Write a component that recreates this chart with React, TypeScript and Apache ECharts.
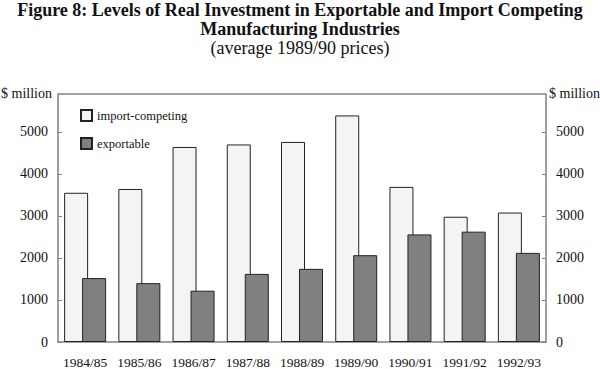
import React, { useEffect, useRef } from "react";
import * as echarts from "echarts";

const categories = ["1984/85", "1985/86", "1986/87", "1987/88", "1988/89", "1989/90", "1990/91", "1991/92", "1992/93"];
const importCompeting = [3550, 3640, 4640, 4700, 4760, 5390, 3690, 2980, 3080];
const exportable = [1520, 1400, 1220, 1620, 1740, 2065, 2560, 2625, 2120];
const yTicks = [0, 1000, 2000, 3000, 4000, 5000];

const FONT = "Liberation Serif, Times New Roman, serif";

export default function App() {
  const ref = useRef<HTMLDivElement>(null);
  useEffect(() => {
    if (!ref.current) return;
    const chart = echarts.init(ref.current, undefined, { renderer: "svg" });
    const yAxisBase = (position: "left" | "right") => ({
      type: "value",
      position,
      min: 0,
      max: 5900,
      interval: 1000,
      axisLine: { show: true, lineStyle: { color: "#808080", width: 1.5 } },
      axisTick: { show: true, inside: true, length: 4, lineStyle: { color: "#808080" } },
      splitLine: { show: false },
      axisLabel: {
        showMaxLabel: false,
        margin: 10,
        color: "#111",
        fontFamily: FONT,
        fontSize: 14,
        formatter: (v: number) => (yTicks.includes(v) ? String(v) : ""),
      },
    });
    chart.setOption({
      animation: false,
      backgroundColor: "#fff",
      title: {
        text: "Figure 8: Levels of Real Investment in Exportable and Import Competing\nManufacturing Industries",
        subtext: "(average 1989/90 prices)",
        left: "center",
        top: 0,
        itemGap: 0,
        padding: 0,
        textStyle: { fontFamily: FONT, fontSize: 18, fontWeight: "bold", color: "#111", lineHeight: 19 },
        subtextStyle: { fontFamily: FONT, fontSize: 18, color: "#111", lineHeight: 19 },
      },
      legend: {
        orient: "vertical",
        left: 80,
        top: 109,
        padding: 0,
        itemWidth: 11,
        itemHeight: 11,
        itemGap: 15,
        icon: "rect",
        textStyle: { fontFamily: FONT, fontSize: 12.5, color: "#111", lineHeight: 12 },
        data: ["import-competing", "exportable"],
      },
      graphic: [
        { type: "text", left: 1, top: 86, style: { text: "$ million", font: `14px ${FONT}`, fill: "#111" } },
        { type: "text", left: 549, top: 86, style: { text: "$ million", font: `14px ${FONT}`, fill: "#111" } },
        {
          type: "line",
          shape: { x1: 58, y1: 94, x2: 546, y2: 94 },
          style: { stroke: "#808080", lineWidth: 1.5 },
        },
      ],
      grid: { left: 58, right: 54, top: 94, bottom: 26.3, containLabel: false },
      xAxis: {
        type: "category",
        data: categories,
        axisLine: { show: true, lineStyle: { color: "#808080", width: 1.5 } },
        axisTick: { show: false },
        axisLabel: { interval: 0, color: "#111", fontFamily: FONT, fontSize: 13.5, margin: 13 },
      },
      yAxis: [yAxisBase("left"), yAxisBase("right")],
      series: [
        {
          name: "import-competing",
          type: "bar",
          data: importCompeting,
          barWidth: 24,
          barGap: "-25%",
          itemStyle: { color: "#f4f4f4", borderColor: "#222", borderWidth: 1 },
        },
        {
          name: "exportable",
          type: "bar",
          data: exportable,
          barWidth: 24,
          itemStyle: { color: "#808080", borderColor: "#222", borderWidth: 1 },
        },
      ],
    });
    return () => chart.dispose();
  }, []);
  return <div ref={ref} style={{ position: "absolute", left: 0, top: 0, width: 600, height: 369 }} />;
}
